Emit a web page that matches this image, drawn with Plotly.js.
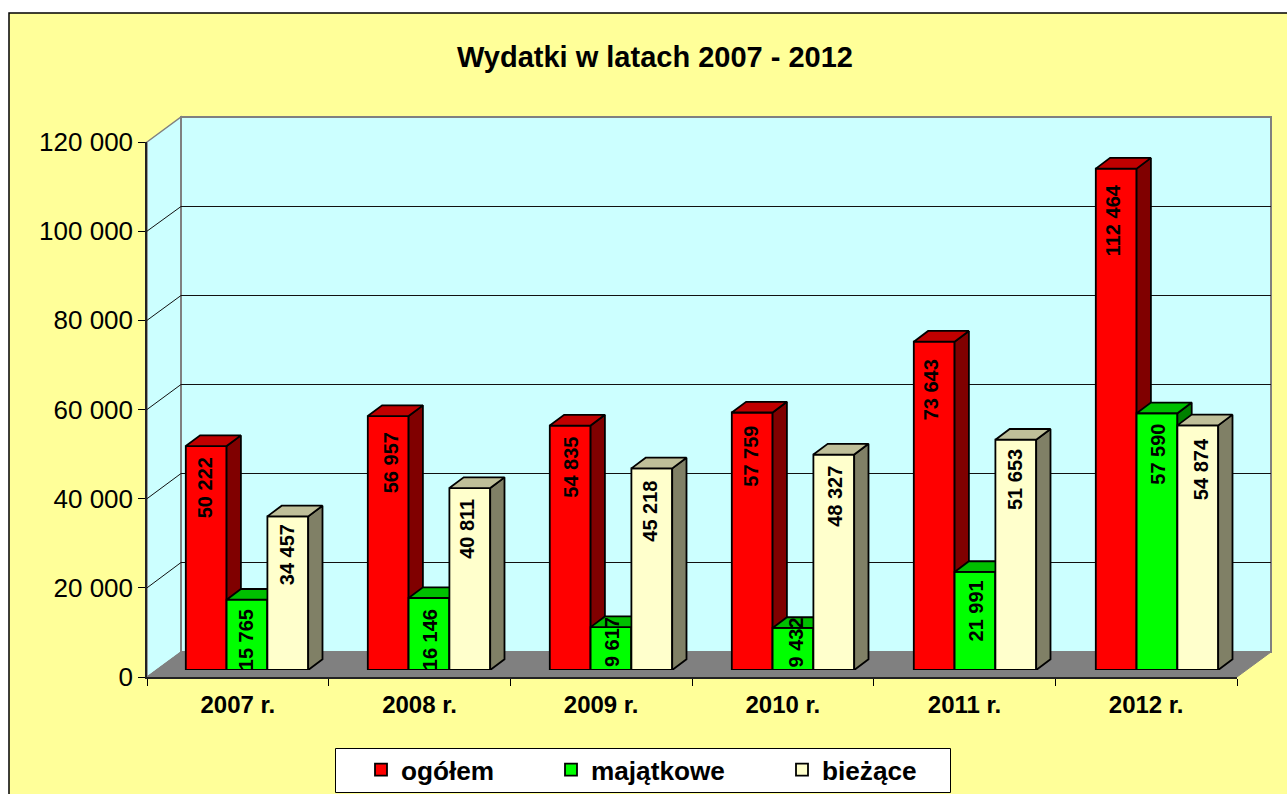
<!DOCTYPE html>
<html>
<head>
<meta charset="utf-8">
<script src="https://cdn.plot.ly/plotly-3.0.1.min.js"></script>
<style>html,body{margin:0;padding:0;background:#fff;overflow:hidden}</style>
</head>
<body>
<div id="chart" style="width:1287px;height:794px"></div>
<script>
// ---- data ----
const categories = ["2007 r.", "2008 r.", "2009 r.", "2010 r.", "2011 r.", "2012 r."];
const ogolem     = [50222, 56957, 54835, 57759, 73643, 112464];
const majatkowe  = [15765, 16146, 9617, 9432, 21991, 57590];
const biezace    = [34457, 40811, 45218, 48327, 51653, 54874];
const yTicks      = [0, 20000, 40000, 60000, 80000, 100000, 120000];
const yTickLabels = ["0", "20 000", "40 000", "60 000", "80 000", "100 000", "120 000"];
const seriesNames = ["ogółem", "majątkowe", "bieżące"];

// ---- styling ----
const frontColors = ["#FF0000", "#00FF00", "#FFFFCC"];
const sideColors  = ["#800000", "#008000", "#808066"];
const topColors   = ["#C00000", "#00BF00", "#BFBF99"];
// how far below each bar's top its rotated label starts (px)
const labelDrops = [
  [9, 14, 9.5, 11.5, 16, 13.5],
  [8, 9, -12, -12, 7, 9],
  [6, 9, 10, 9.5, 7, 11]
];
// sideways nudge of each rotated label from its bar's centre (px)
const labelNudges = [
  [-1.5, 2.5, 0, -1, -3, -3],
  [-1, 0.7, 1, 2.5, 1, 1],
  [-0.5, -3, -2, 0.5, -1, 4]
];
const FONT = "Liberation Sans, Arial, sans-serif";
const W = 1287, H = 794;
const fx = p => p / W, fy = p => 1 - p / H;

// projection geometry (px)
const front = {l: 147, r: 1237, t: 142, b: 677};
const wall = {dx: 34, dy: 25};
const barPlane = {l: 156, r: 1248, b: 670};
const pxPerUnitY = (front.b - front.t) / 120000;
const pxPerCat = (barPlane.r - barPlane.l) / 6;
const barW = 40.8 / pxPerCat;
const depthX = 14.3 / pxPerCat;
const depthY = 10.7 / pxPerUnitY;
const gy = v => front.b - v * pxPerUnitY;

const values = [ogolem, majatkowe, biezace];
const idx = categories.map((_, i) => i);
const traces = [];

// front axes trace (carries category axis)
traces.push({type: "scatter", mode: "none", x: categories, y: ogolem, xaxis: "x", yaxis: "y",
  showlegend: false, hoverinfo: "skip"});

const legends = ["legend", "legend2", "legend3"];
values.forEach((vals, s) => {
  const ax = {xaxis: "x" + (s + 2), yaxis: "y" + (s + 2)};
  const off = (s - 1.5) * barW;
  traces.push(Object.assign({
    type: "bar", name: seriesNames[s], x: idx, y: vals, width: barW, offset: off,
    marker: {color: frontColors[s], line: {color: "#000", width: 1.8}},
    cliponaxis: false, legend: legends[s], hoverinfo: "y"
  }, ax));
  const sx = [], sy = [], tx = [], ty = [];
  vals.forEach((v, i) => {
    const xl = i + off, xr = xl + barW;
    sx.push(xr, xr + depthX, xr + depthX, xr, xr, null);
    sy.push(0, depthY, v + depthY, v, 0, null);
    tx.push(xl, xr, xr + depthX, xl + depthX, xl, null);
    ty.push(v, v, v + depthY, v + depthY, v, null);
  });
  traces.push(Object.assign({type: "scatter", mode: "lines", x: sx, y: sy, fill: "toself",
    fillcolor: sideColors[s], line: {color: "#000", width: 1.8}, showlegend: false,
    hoverinfo: "skip", cliponaxis: false, connectgaps: false}, ax));
  traces.push(Object.assign({type: "scatter", mode: "lines", x: tx, y: ty, fill: "toself",
    fillcolor: topColors[s], line: {color: "#000", width: 1.8}, showlegend: false,
    hoverinfo: "skip", cliponaxis: false, connectgaps: false}, ax));
});

// data labels
const annotations = [];
values.forEach((vals, s) => {
  vals.forEach((v, i) => {
    const txt = String(v).replace(/\B(?=(\d{3})+$)/g, " ");
    annotations.push({
      xref: "x" + (s + 2), yref: "y" + (s + 2),
      x: i + (s - 1) * barW + labelNudges[s][i] / pxPerCat, y: v,
      yshift: -labelDrops[s][i], yanchor: "top", xanchor: "center",
      text: "<b>" + txt + "</b>", textangle: -90, showarrow: false,
      font: {family: FONT, size: 20, color: "#000"}
    });
  });
});

// walls, floor, gridlines
const poly = pts => "M" + pts.map(p => fx(p[0]) + "," + fy(p[1])).join("L") + "Z";
const backL = front.l + wall.dx, backR = front.r + wall.dx;
const backT = front.t - wall.dy, backB = front.b - wall.dy;
const shapes = [
  {type: "rect", xref: "paper", yref: "paper", layer: "below", x0: fx(9), x1: fx(1300), y0: fy(13), y1: fy(810),
    fillcolor: "#FFFF99", line: {color: "#000", width: 1.5}},
  {type: "path", xref: "paper", yref: "paper", layer: "below",
    path: poly([[front.l, front.t], [backL, backT], [backL, backB], [front.l, front.b]]),
    fillcolor: "#CCFFFF", line: {color: "#808080", width: 1.5}},
  {type: "rect", xref: "paper", yref: "paper", layer: "below", x0: fx(backL), x1: fx(backR), y0: fy(backB), y1: fy(backT),
    fillcolor: "#CCFFFF", line: {color: "#808080", width: 2}},
  {type: "path", xref: "paper", yref: "paper", layer: "below",
    path: poly([[front.l, front.b], [front.r, front.b], [backR, backB], [backL, backB]]),
    fillcolor: "#808080", line: {color: "#808080", width: 1}}
];
yTicks.slice(1, -1).forEach(v => {
  const y = gy(v);
  const yb = Math.floor(y - wall.dy) + 0.5;
  shapes.push({type: "line", xref: "paper", yref: "paper", layer: "below",
    x0: fx(backL), x1: fx(backR), y0: fy(yb), y1: fy(yb), line: {color: "#111", width: 1}});
  shapes.push({type: "line", xref: "paper", yref: "paper", layer: "below",
    x0: fx(front.l), x1: fx(backL), y0: fy(y), y1: fy(yb), line: {color: "#111", width: 1}});
});
// legend box
shapes.push({type: "rect", xref: "paper", yref: "paper", layer: "below",
  x0: fx(335.5), x1: fx(950.5), y0: fy(748.5), y1: fy(792.5), fillcolor: "#FFFFFF", line: {color: "#000", width: 1}});

const hiddenX = {domain: [fx(barPlane.l), fx(barPlane.r)], range: [-0.5, 5.5], visible: false, fixedrange: true};
const hiddenY = {domain: [fy(barPlane.b), fy(barPlane.b - (front.b - front.t))], range: [0, 120000], visible: false, fixedrange: true};
const legendBase = {bgcolor: "rgba(0,0,0,0)", borderwidth: 0, yanchor: "middle", y: fy(770), xanchor: "left",
  font: {family: FONT, size: 26.2, color: "#000", weight: 700}, itemclick: false, itemdoubleclick: false};

const layout = {
  width: W, height: H, autosize: false,
  margin: {l: 0, r: 0, t: 0, b: 0, pad: 0},
  paper_bgcolor: "#FFFFFF", plot_bgcolor: "rgba(0,0,0,0)",
  title: {text: "<b>Wydatki w latach 2007 - 2012</b>", x: fx(655), y: fy(57), xanchor: "center", yanchor: "middle",
    font: {family: FONT, size: 29, color: "#000"}},
  showlegend: true,
  legend: Object.assign({}, legendBase, {x: fx(361)}),
  legend2: Object.assign({}, legendBase, {x: fx(551)}),
  legend3: Object.assign({}, legendBase, {x: fx(782)}),
  xaxis: {type: "category", categoryorder: "array", categoryarray: categories,
    domain: [fx(front.l), fx(front.r)], range: [-0.5, 5.5], tickson: "boundaries",
    ticks: "outside", ticklen: 7, tickcolor: "#000", tickwidth: 1, showgrid: false, zeroline: false,
    showline: true, linecolor: "#222", linewidth: 1.5, ticklabelstandoff: 5,
    tickfont: {family: FONT, size: 24, color: "#000", weight: 700}, fixedrange: true},
  yaxis: {domain: [fy(front.b), fy(front.t)], range: [0, 120000], tickmode: "array",
    tickvals: yTicks, ticktext: yTickLabels, ticks: "outside", ticklen: 7, tickcolor: "#000", tickwidth: 1,
    showgrid: false, zeroline: false, showline: true, linecolor: "#222", linewidth: 1.5,
    tickfont: {family: FONT, size: 26, color: "#000"}, fixedrange: true},
  xaxis2: Object.assign({anchor: "y2"}, hiddenX), yaxis2: Object.assign({anchor: "x2"}, hiddenY),
  xaxis3: Object.assign({anchor: "y3"}, hiddenX), yaxis3: Object.assign({anchor: "x3"}, hiddenY),
  xaxis4: Object.assign({anchor: "y4"}, hiddenX), yaxis4: Object.assign({anchor: "x4"}, hiddenY),
  shapes, annotations
};
Plotly.newPlot("chart", traces, layout, {displayModeBar: false, responsive: false});
</script>
</body>
</html>
